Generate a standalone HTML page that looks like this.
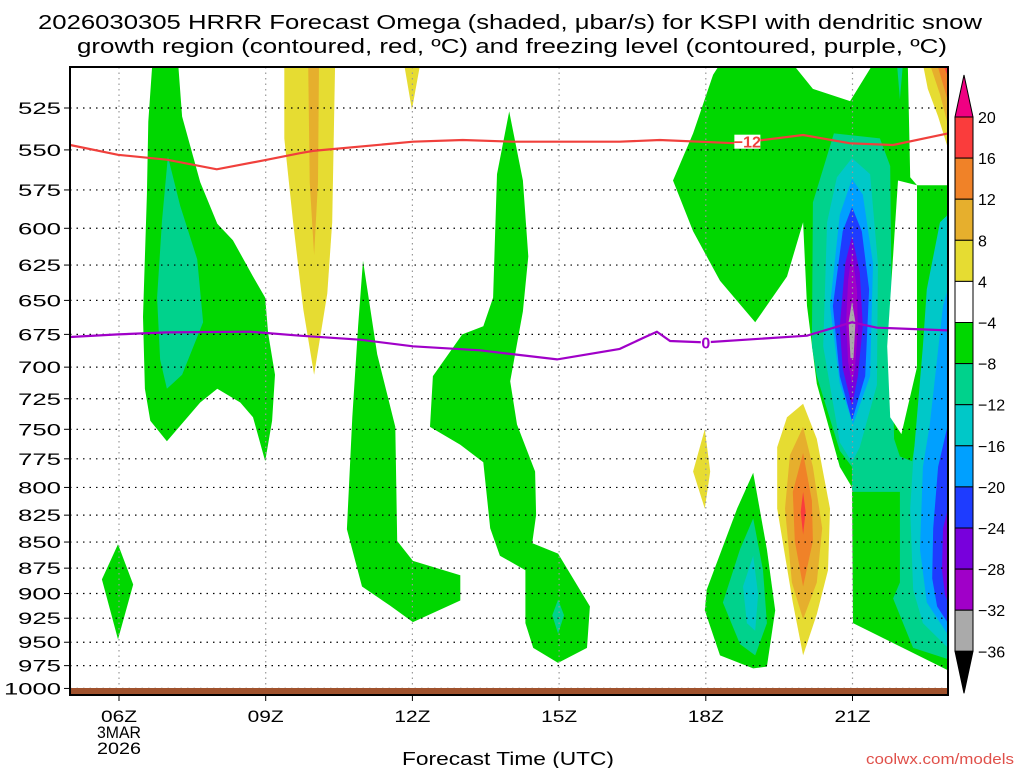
<!DOCTYPE html>
<html><head><meta charset="utf-8"><style>
html,body{margin:0;padding:0;background:#fff;}
svg{display:block;font-family:"Liberation Sans",sans-serif;}
</style></head><body>
<svg id="chart" width="1024" height="768" viewBox="0 0 1024 768" xmlns="http://www.w3.org/2000/svg">
<rect x="0" y="0" width="1024" height="768" fill="#fff"/>
<g font-size="20" fill="#000" text-anchor="middle">
<text x="510" y="29" textLength="944" lengthAdjust="spacingAndGlyphs">2026030305 HRRR Forecast Omega (shaded, μbar/s) for KSPI with dendritic snow</text>
<text x="512" y="53" textLength="870" lengthAdjust="spacingAndGlyphs">growth region (contoured, red, ºC) and freezing level (contoured, purple, ºC)</text>
</g>
<defs><clipPath id="plotclip"><rect x="70" y="67" width="878" height="628"/></clipPath></defs>
<g id="shading" clip-path="url(#plotclip)"></g>
<g id="grid"></g>
<g id="contours" clip-path="url(#plotclip)"></g>
<rect x="70" y="688" width="878" height="7" fill="#a0522d"/>
<rect x="70" y="67" width="878" height="628" fill="none" stroke="#000" stroke-width="2"/>
<g id="yaxis"></g>
<g id="xaxis"></g>
<text x="508" y="765" font-size="18" text-anchor="middle" textLength="212" lengthAdjust="spacingAndGlyphs">Forecast Time (UTC)</text>
<text x="1014" y="764" font-size="15" text-anchor="end" fill="#e0504a" textLength="148" lengthAdjust="spacingAndGlyphs">coolwx.com/models</text>
<g id="colorbar"></g>
</svg>
<script>
const NS = "http://www.w3.org/2000/svg";
const yTicks = [525,550,575,600,625,650,675,700,725,750,775,800,825,850,875,900,925,950,975,1000];
const xTickHours = [6,9,12,15,18,21];
const xTickLabels = ["06Z","09Z","12Z","15Z","18Z","21Z"];
const cbLevels = ["20","16","12","8","4","−4","−8","−12","−16","−20","−24","−28","−32","−36"];
const cbColors = ["#fa3c3c","#f08228","#e6af2d","#e6dc32","#ffffff","#00d700","#00d28c","#00c8c8","#00a0ff","#1e3cff","#7800dc","#a000c8","#aaaaaa"];

// shaded omega regions: [hour, pressure]
const greenLeft = [[6.68,500],[7.21,500],[7.29,530],[7.66,570],[8.01,597],[8.33,608],[8.74,633],[8.99,648],[9.05,674],[9.19,706],[9.13,743],[8.99,777],[8.74,740],[8.48,728],[8.01,717],[7.66,728],[6.98,760],[6.64,743],[6.53,717],[6.49,662],[6.57,578],[6.60,533]];
const tealLeft = [[7.0,554],[7.25,585],[7.6,621],[7.72,666],[7.29,706],[6.98,717],[6.84,694],[6.78,648],[6.88,595]];
const greenSmall06 = [[5.98,852],[6.29,891],[5.98,947],[5.65,886]];
const yellow10 = [[9.38,500],[10.42,500],[10.36,596],[10.26,645],[9.99,706],[9.77,657],[9.56,596],[9.38,543]];
const orange10 = [[9.87,500],[10.09,500],[10.07,570],[9.99,618],[9.90,570]];
const yellow12 = [[11.83,500],[12.16,500],[11.99,526]];
const green11 = [[10.99,622],[11.28,690],[11.65,748],[11.69,849],[12.01,868],[12.98,882],[12.98,907],[12.01,929],[11.54,912],[10.97,893],[10.66,838],[10.77,740],[10.89,669]];
const green14 = [[13.98,527],[14.26,569],[14.37,619],[14.26,658],[14.0,711],[14.14,746],[14.51,786],[14.53,825],[14.45,851],[14.98,861],[15.63,913],[15.57,956],[14.98,972],[14.47,956],[14.31,930],[14.31,877],[13.79,863],[13.59,837],[13.45,778],[12.98,763],[12.36,748],[12.42,707],[13.02,675],[13.45,669],[13.65,648],[13.73,565]];
const teal15 = [[14.98,906],[15.1,922],[14.98,941],[14.86,922]];
const greenRight = [[18.29,500],[19.78,500],[20.19,514],[20.95,521],[21.42,500],[22.13,500],[22.18,567],[22.32,572],[22.95,572],[22.95,980],[21.01,930],[20.99,800],[20.74,782],[20.27,713],[20.07,654],[19.99,596],[19.66,633],[19.01,666],[18.29,636],[17.74,602],[17.33,569],[17.74,540],[18.15,506]];
const tealRight = [[20.62,540],[21.56,543],[21.77,560],[21.81,684],[21.85,758],[21.97,773],[22.22,777],[22.36,740],[22.52,684],[22.73,619],[22.93,591],[22.95,584],[22.95,968],[22.24,956],[21.83,905],[21.97,889],[21.97,804],[20.99,804],[20.99,782],[20.74,768],[20.27,707],[20.17,684],[20.19,583]];
const whiteGap = [[21.93,569],[22.32,572],[22.32,700],[22.0,754],[21.77,740],[21.71,684]];
const cyanVortex = [[20.99,555],[21.36,565],[21.52,624],[21.50,714],[21.15,765],[20.99,778],[20.74,761],[20.40,684],[20.48,596],[20.68,567]];
const cyanRight = [[22.79,596],[22.52,642],[22.44,684],[22.24,778],[22.18,819],[22.24,896],[22.44,930],[22.95,956],[22.95,591]];
const lblueVortex = [[20.99,568],[21.21,578],[21.42,624],[21.36,707],[21.01,746],[20.74,713],[20.54,654],[20.74,591]];
const lblueRight = [[22.85,654],[22.58,746],[22.44,782],[22.38,857],[22.52,909],[22.95,942],[22.95,642]];
const blueVortex = [[20.99,586],[21.19,602],[21.34,642],[21.26,707],[20.99,743],[20.74,707],[20.60,654],[20.80,602]];
const blueRight = [[22.95,746],[22.75,782],[22.65,837],[22.63,885],[22.73,913],[22.95,930]];
const purpleVortex = [[20.99,605],[21.15,630],[21.21,669],[21.11,707],[20.99,731],[20.80,701],[20.74,669],[20.85,624]];
const purpleRight = [[22.95,819],[22.85,837],[22.83,877],[22.89,901],[22.95,909]];
const magentaVortex = [[20.99,616],[21.09,642],[21.11,672],[21.05,701],[20.99,713],[20.91,696],[20.87,666],[20.91,636]];
const grayVortex = [[20.99,651],[21.06,666],[21.02,693],[20.96,693],[20.92,666]];
const yellow20 = [[19.99,729],[20.27,758],[20.54,819],[20.50,877],[20.27,921],[19.99,964],[19.78,909],[19.46,819],[19.46,765],[19.66,740]];
const lorange20 = [[19.99,748],[20.19,782],[20.38,837],[20.27,889],[19.99,926],[19.76,889],[19.62,819],[19.72,772]];
const orange20 = [[19.99,770],[20.17,812],[20.19,849],[19.99,893],[19.82,849],[19.78,804]];
const red20 = [[19.99,804],[20.04,822],[19.99,843],[19.94,822]];
const yellow18 = [[17.98,750],[18.09,786],[17.98,819],[17.74,786]];
const green19 = [[18.97,787],[19.25,857],[19.42,917],[19.25,976],[18.97,978],[18.29,964],[17.98,917],[18.02,896],[18.64,819]];
const teal19 = [[18.97,828],[19.17,877],[19.25,930],[19.01,964],[18.70,952],[18.35,909],[18.70,857]];
const cyan19 = [[18.97,863],[19.07,901],[19.01,938],[18.84,930],[18.76,893]];
const tealTop22 = [[21.91,500],[22.03,500],[21.97,520]];
const yellowCorner = [[22.44,500],[22.95,500],[22.95,549],[22.75,530],[22.54,514]];
const lorangeCorner = [[22.58,500],[22.95,500],[22.95,535],[22.79,517]];
const orangeCorner = [[22.73,500],[22.95,500],[22.95,521]];
const redCorner = [[22.85,500],[22.95,500],[22.95,507]];

// contour lines
const dgzLine = [[5,547],[5.98,553],[6.98,556],[8.0,562],[9.03,556],[9.70,552],[9.97,550.6],[12.01,545],[13.03,544],[14.06,545],[16.24,545],[17.06,544],[18.64,546],[19.99,541],[20.95,546],[21.83,547],[22.95,540]];
const frzLine = [[5,677],[5.98,675],[6.98,673.5],[8.68,673],[9.7,676],[10.93,679],[12.01,684],[13.38,687],[14.96,694],[16.24,686],[16.76,677],[17.0,673],[17.27,680],[17.98,681],[20.07,676],[20.99,666],[21.5,670],[22.95,672]];

function X(h){ return 119 + (h-6)*48.9; }
function Y(p){ return 108 + 900.8*(Math.log(p)-Math.log(525)); }
function pts(a){ return a.map(d=>X(d[0]).toFixed(1)+","+Y(d[1]).toFixed(1)).join(" "); }

const shading = document.getElementById("shading");
function poly(arr, color, name){
  const el = document.createElementNS(NS,"polygon");
  el.setAttribute("points", pts(arr));
  el.setAttribute("fill", color);
  
  
  shading.appendChild(el);
}
const G="#00d700",TG="#00d28c",CY="#00c8c8",LB="#00a0ff",BL="#1e3cff",PU="#7800dc",MG="#a000c8",GR="#aaaaaa",YE="#e6dc32",LO="#e6af2d",OR="#f08228",RD="#fa3c3c";
poly(greenLeft,G,"omega-region-green-left");
poly(tealLeft,TG,"omega-region-teal-left");
poly(greenSmall06,G,"omega-region-green-06z");
poly(yellow10,YE,"omega-region-yellow-10z");
poly(orange10,LO,"omega-region-orange-10z");
poly(yellow12,YE,"omega-region-yellow-12z");
poly(green11,G,"omega-region-green-11z");
poly(green14,G,"omega-region-green-14z");
poly(teal15,TG,"omega-region-teal-15z");
poly(greenRight,G,"omega-region-green-right");
poly(tealRight,TG,"omega-region-teal-right");
poly(whiteGap,"#ffffff","omega-region-white-gap");
poly(cyanVortex,CY,"omega-region-cyan-vortex");
poly(cyanRight,CY,"omega-region-cyan-right");
poly(lblueVortex,LB,"omega-region-lightblue-vortex");
poly(lblueRight,LB,"omega-region-lightblue-right");
poly(blueVortex,BL,"omega-region-blue-vortex");
poly(blueRight,BL,"omega-region-blue-right");
poly(purpleVortex,PU,"omega-region-purple-vortex");
poly(purpleRight,PU,"omega-region-purple-right");
poly(magentaVortex,MG,"omega-region-magenta-vortex");
poly(grayVortex,GR,"omega-region-gray-vortex");
poly(yellow20,YE,"omega-region-yellow-20z");
poly(lorange20,LO,"omega-region-lightorange-20z");
poly(orange20,OR,"omega-region-orange-20z");
poly(red20,RD,"omega-region-red-20z");
poly(yellow18,YE,"omega-region-yellow-18z");
poly(green19,G,"omega-region-green-19z");
poly(teal19,TG,"omega-region-teal-19z");
poly(cyan19,CY,"omega-region-cyan-19z");
poly(tealTop22,TG,"omega-region-teal-top");
poly(yellowCorner,YE,"omega-region-yellow-corner");
poly(lorangeCorner,LO,"omega-region-lightorange-corner");
poly(orangeCorner,OR,"omega-region-orange-corner");
poly(redCorner,RD,"omega-region-red-corner");

// grid + axes
const grid = document.getElementById("grid");
const yaxis = document.getElementById("yaxis");
yTicks.forEach(p=>{
  const y = Y(p);
  const l = document.createElementNS(NS,"line");
  l.setAttribute("x1",70); l.setAttribute("x2",948); l.setAttribute("y1",y); l.setAttribute("y2",y);
  l.setAttribute("stroke","#000"); l.setAttribute("stroke-width","1.2"); l.setAttribute("stroke-dasharray","1.5 5");
  
  
  grid.appendChild(l);
  const tk = document.createElementNS(NS,"line");
  tk.setAttribute("x1",64); tk.setAttribute("x2",70); tk.setAttribute("y1",y); tk.setAttribute("y2",y);
  tk.setAttribute("stroke","#000");
  
  
  yaxis.appendChild(tk);
  const t = document.createElementNS(NS,"text");
  t.setAttribute("x",61); t.setAttribute("y",y+6); t.setAttribute("text-anchor","end");
  t.setAttribute("font-size","17");
  const s = String(p);
  t.setAttribute("textLength", s.length===4 ? 57 : 43);
  t.setAttribute("lengthAdjust","spacingAndGlyphs");
  t.textContent = s;
  
  
  yaxis.appendChild(t);
});
const xaxis = document.getElementById("xaxis");
xTickHours.forEach((h,i)=>{
  const x = X(h);
  const l = document.createElementNS(NS,"line");
  l.setAttribute("x1",x); l.setAttribute("x2",x); l.setAttribute("y1",67); l.setAttribute("y2",695);
  l.setAttribute("stroke","#999"); l.setAttribute("stroke-width","1.2"); l.setAttribute("stroke-dasharray","1.5 4");
  
  
  grid.appendChild(l);
  const tk = document.createElementNS(NS,"line");
  tk.setAttribute("x1",x); tk.setAttribute("x2",x); tk.setAttribute("y1",695); tk.setAttribute("y2",701);
  tk.setAttribute("stroke","#000");
  
  
  xaxis.appendChild(tk);
  const t = document.createElementNS(NS,"text");
  t.setAttribute("x",x); t.setAttribute("y",722); t.setAttribute("text-anchor","middle");
  t.setAttribute("font-size","17"); t.setAttribute("textLength","36"); t.setAttribute("lengthAdjust","spacingAndGlyphs");
  t.textContent = xTickLabels[i];
  
  
  xaxis.appendChild(t);
});
[["3MAR",738,44],["2026",754,44]].forEach(d=>{
  const t = document.createElementNS(NS,"text");
  t.setAttribute("x",X(6)); t.setAttribute("y",d[1]); t.setAttribute("text-anchor","middle");
  t.setAttribute("font-size","17"); t.setAttribute("textLength",d[2]); t.setAttribute("lengthAdjust","spacingAndGlyphs");
  t.textContent = d[0];
  
  
  xaxis.appendChild(t);
});

// contours
const contours = document.getElementById("contours");
function line(arr,color,name){
  const el = document.createElementNS(NS,"polyline");
  el.setAttribute("points",pts(arr)); el.setAttribute("fill","none");
  el.setAttribute("stroke",color); el.setAttribute("stroke-width","2.2");
  
  
  contours.appendChild(el);
}
line(dgzLine,"#f0403c","dgz-contour-minus12");
line(frzLine,"#a000c8","freezing-level-contour");
function clabel(h,p,txt,color,w,name){
  const r = document.createElementNS(NS,"rect");
  r.setAttribute("x",X(h)-w/2); r.setAttribute("y",Y(p)-7); r.setAttribute("width",w); r.setAttribute("height",14);
  r.setAttribute("fill","#fff");
  
  
  contours.appendChild(r);
  const t = document.createElementNS(NS,"text");
  t.setAttribute("x",X(h)); t.setAttribute("y",Y(p)+6); t.setAttribute("text-anchor","middle");
  t.setAttribute("font-size","16"); t.setAttribute("font-weight","bold"); t.setAttribute("fill",color);
  t.textContent = txt;
  
  
  contours.appendChild(t);
}
clabel(18.85,545,"−12",color="#f0403c",26,"dgz-contour-label");
clabel(18.0,681,"0","#a000c8",10,"freezing-contour-label");

// colorbar
const cb = document.getElementById("colorbar");
const cbTop = 117, cbH = 41.1, cbX = 955, cbW = 18;
const up = document.createElementNS(NS,"polygon");
up.setAttribute("points",`${cbX},${cbTop} ${cbX+cbW},${cbTop} ${cbX+cbW/2},${cbTop-42}`);
up.setAttribute("fill","#f00082"); up.setAttribute("stroke","#000");


cb.appendChild(up);
cbColors.forEach((c,i)=>{
  const r = document.createElementNS(NS,"rect");
  r.setAttribute("x",cbX); r.setAttribute("y",cbTop+i*cbH); r.setAttribute("width",cbW); r.setAttribute("height",cbH);
  r.setAttribute("fill",c); r.setAttribute("stroke","#000");
  
  
  cb.appendChild(r);
});
const bot = cbTop + cbColors.length*cbH;
const dn = document.createElementNS(NS,"polygon");
dn.setAttribute("points",`${cbX},${bot} ${cbX+cbW},${bot} ${cbX+cbW/2},${bot+42}`);
dn.setAttribute("fill","#000"); dn.setAttribute("stroke","#000");


cb.appendChild(dn);
cbLevels.forEach((s,i)=>{
  const t = document.createElementNS(NS,"text");
  t.setAttribute("x",978); t.setAttribute("y",cbTop+i*cbH+6);
  t.setAttribute("font-size","16");
  t.textContent = s;
  
  
  cb.appendChild(t);
});
</script>
</body></html>
